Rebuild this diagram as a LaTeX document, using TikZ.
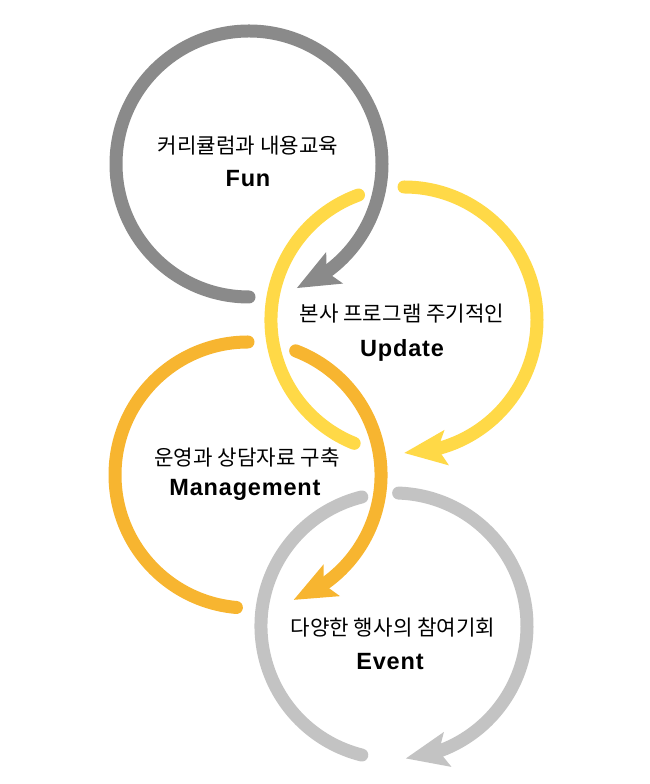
\documentclass[tikz,border=0pt]{standalone}
\usepackage{fontspec}
\setmainfont{Liberation Sans}[LetterSpace=3.5]
\newfontfamily\krfont{Noto Sans CJK KR}
\usetikzlibrary{arrows.meta, bending}

\definecolor{fun_gray}{HTML}{8A8A8A}
\definecolor{upd_yellow}{HTML}{FFD947}
\definecolor{man_orange}{HTML}{F7B530}
\definecolor{evt_gray}{HTML}{C3C3C3}

\begin{document}
\begin{tikzpicture}[
		x=1pt, y=1pt,
		ring/.style={line width=13pt, line cap=round},
		ring_arrow/.style={ring, -{Stealth[length=42pt, width=34pt, inset=8pt]}},
		label_kr/.style={anchor=base, inner sep=0pt, font=\krfont\fontsize{21.2}{24}\selectfont},
		label_en/.style={anchor=base, inner sep=0pt, font=\bfseries\fontsize{23.5}{26}\selectfont}
		]
		\useasboundingbox (0,0) rectangle (650,784);
		
		% Fun (top, dark gray)
		\coordinate (fun_c) at (249,620);
		\draw[ring_arrow, fun_gray] ([shift={(270:133)}]fun_c) arc[start angle=270, end angle=-69, radius=133];
		\node[label_kr] (fun_kr) at (248,630) {커리큘럼과 내용교육};
		\node[label_en] (fun_en) at (248,597) {Fun};
		
		% Update (yellow)
		\coordinate (upd_c) at (404,464);
		\draw[ring, upd_yellow] ([shift={(110:133)}]upd_c) arc[start angle=110, end angle=248, radius=133];
		\draw[ring_arrow, upd_yellow] ([shift={(90:133)}]upd_c) arc[start angle=90, end angle=-90, radius=133];
		\node[label_kr] (upd_kr) at (402,462) {본사 프로그램 주기적인};
		\node[label_en] (upd_en) at (402,427) {Update};
		
		% Management (orange)
		\coordinate (man_c) at (248,309);
		\draw[ring, man_orange] ([shift={(90:133)}]man_c) arc[start angle=90, end angle=265, radius=133];
		\draw[ring_arrow, man_orange] ([shift={(69:133)}]man_c) arc[start angle=69, end angle=-70, radius=133];
		\node[label_kr] (man_kr) at (247,318) {운영과 상담자료 구축};
		\node[label_en] (man_en) at (245,288) {Management};
		
		% Event (bottom, light gray)
		\coordinate (evt_c) at (394,158);
		\draw[ring, evt_gray] ([shift={(104:133)}]evt_c) arc[start angle=104, end angle=256, radius=133];
		\draw[ring_arrow, evt_gray] ([shift={(88:133)}]evt_c) arc[start angle=88, end angle=-85, radius=133];
		\node[label_kr] (evt_kr) at (393,148) {다양한 행사의 참여기회};
		\node[label_en] (evt_en) at (390,114) {Event};
		
	\end{tikzpicture}
\end{document}
